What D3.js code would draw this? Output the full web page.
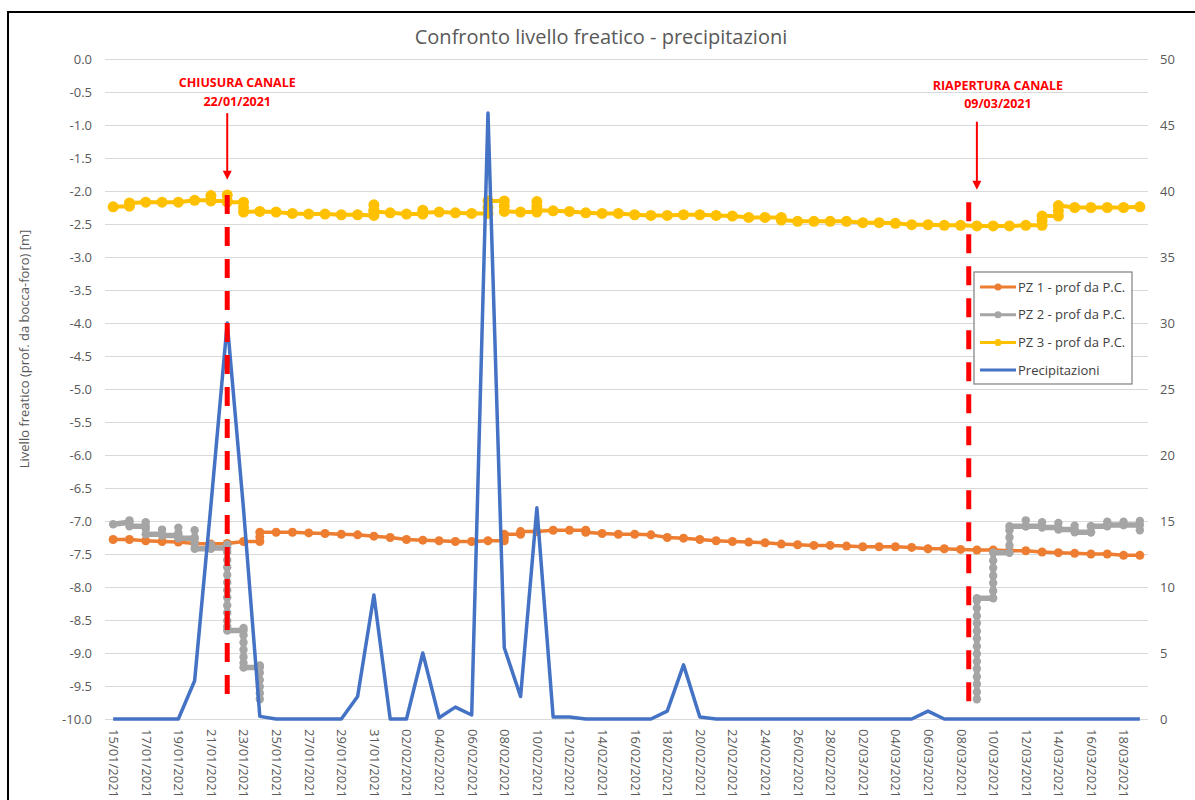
<!DOCTYPE html>
<html><head><meta charset="utf-8">
<script src="https://cdn.jsdelivr.net/npm/d3@7"></script>
<style>
body{margin:0;background:#fff}
text{font-family:"Open Sans","Noto Sans",sans-serif}
</style>
</head><body>
<svg id="chart" width="1195" height="800"></svg>
<script>
// ---------- DATA ----------
const dates = [
 "15/01/2021","16/01/2021","17/01/2021","18/01/2021","19/01/2021","20/01/2021","21/01/2021","22/01/2021",
 "23/01/2021","24/01/2021","25/01/2021","26/01/2021","27/01/2021","28/01/2021","29/01/2021","30/01/2021","31/01/2021",
 "01/02/2021","02/02/2021","03/02/2021","04/02/2021","05/02/2021","06/02/2021","07/02/2021","08/02/2021","09/02/2021",
 "10/02/2021","11/02/2021","12/02/2021","13/02/2021","14/02/2021","15/02/2021","16/02/2021","17/02/2021","18/02/2021",
 "19/02/2021","20/02/2021","21/02/2021","22/02/2021","23/02/2021","24/02/2021","25/02/2021","26/02/2021","27/02/2021","28/02/2021",
 "01/03/2021","02/03/2021","03/03/2021","04/03/2021","05/03/2021","06/03/2021","07/03/2021","08/03/2021","09/03/2021",
 "10/03/2021","11/03/2021","12/03/2021","13/03/2021","14/03/2021","15/03/2021","16/03/2021","17/03/2021","18/03/2021","19/03/2021"
];
// Precipitazioni (right axis), one value per day
const precipitazioni = [
 0,0,0,0,0,2.9,16.2,30.0,15.9,0.2,0,0,0,0,0,1.7,9.4,
 0,0,5.0,0.1,0.9,0.3,45.9,5.4,1.7,16.0,0.15,0.15,0,0,0,0,0,0.6,4.1,0.15,0,0,0,0,0,0,0,0,
 0,0,0,0,0,0.6,0,0,0,0,0,0,0,0,0,0,0,0,0
];
// Piezometers (left axis): one entry per day; arrays = several readings on the same day; null = no reading
const pz1 = [
 -7.28,-7.28,-7.30,-7.31,-7.32,-7.34,-7.35,-7.34,-7.31,[-7.31,-7.24,-7.17],-7.17,-7.17,-7.18,-7.19,-7.20,-7.21,-7.23,
 -7.25,-7.28,-7.29,-7.30,-7.31,-7.31,-7.30,[-7.30,-7.25,-7.20],[-7.20,-7.16],-7.16,-7.14,-7.14,[-7.14,-7.17],-7.19,-7.20,-7.20,
 -7.21,-7.25,-7.26,-7.28,-7.30,-7.31,-7.32,-7.33,-7.35,-7.36,-7.37,-7.37,-7.38,-7.39,-7.39,-7.39,-7.40,-7.42,-7.42,-7.43,
 -7.44,-7.44,-7.45,-7.45,-7.47,-7.48,-7.49,-7.50,-7.50,-7.52,-7.52
];
const pz2 = [
 -7.05,[-7.02,-6.99,-7.08],[-7.08,-7.02,-7.12,-7.20],[-7.20,-7.13,-7.22],[-7.22,-7.10,-7.18,-7.26],
 [-7.26,-7.14,-7.25,-7.34,-7.42],[-7.42,-7.36,-7.41],
 [-7.41,-7.36,-7.47,-7.59,-7.70,-7.82,-7.93,-8.05,-8.16,-8.28,-8.39,-8.51,-8.60,-8.66],
 [-8.66,-8.62,-8.73,-8.84,-8.95,-9.06,-9.15,-9.22],
 [-9.22,-9.19,-9.30,-9.41,-9.51,-9.61,-9.70],
 null,null,null,null,null,null,null,null,null,null,null,null,null,null,null,null,null,null,null,null,null,
 null,null,null,null,null,null,null,null,null,null,null,null,null,null,null,null,null,null,null,null,null,null,
 [-9.70,-9.59,-9.47,-9.36,-9.24,-9.13,-9.01,-8.90,-8.78,-8.67,-8.55,-8.44,-8.32,-8.21,-8.17],
 [-8.17,-8.06,-7.94,-7.83,-7.71,-7.60,-7.48],
 [-7.48,-7.37,-7.25,-7.14,-7.08],
 [-7.08,-6.99,-7.08],[-7.08,-7.02,-7.10],[-7.10,-7.03,-7.13],[-7.13,-7.07,-7.17],[-7.17,-7.08,-7.17,-7.08],
 [-7.08,-7.01,-7.06],[-7.06,-7.01,-7.06],[-7.06,-7.00,-7.14]
];
const pz3 = [
 -2.24,[-2.23,-2.18],-2.17,-2.17,-2.17,-2.14,[-2.14,-2.07,-2.15],[-2.15,-2.06,-2.17],[-2.17,-2.25,-2.32],
 -2.31,-2.32,-2.34,-2.35,-2.35,-2.36,-2.36,[-2.37,-2.29,-2.21,-2.31],
 -2.33,-2.35,[-2.35,-2.29,-2.33],-2.32,-2.33,-2.34,[-2.34,-2.25,-2.15],[-2.15,-2.23,-2.31],-2.32,
 [-2.32,-2.24,-2.16,-2.29],-2.30,-2.31,-2.33,-2.34,-2.34,-2.36,-2.37,-2.37,-2.36,-2.36,-2.37,-2.38,-2.40,
 -2.40,[-2.40,-2.44],-2.46,-2.46,-2.46,-2.46,-2.48,-2.48,-2.49,-2.51,-2.51,-2.52,-2.52,-2.53,-2.53,-2.53,-2.52,
 [-2.52,-2.45,-2.38],[-2.38,-2.30,-2.22],-2.25,-2.25,-2.25,-2.25,-2.24
];
const seriesNames = ["PZ 1 - prof da P.C.","PZ 2 - prof da P.C.","PZ 3 - prof da P.C.","Precipitazioni"];
const leftTicks = [0,-0.5,-1,-1.5,-2,-2.5,-3,-3.5,-4,-4.5,-5,-5.5,-6,-6.5,-7,-7.5,-8,-8.5,-9,-9.5,-10];
const rightTicks = [0,5,10,15,20,25,30,35,40,45,50];
const xTickLabels = dates.filter((d,i) => i % 2 === 0);
const titleText = "Confronto livello freatico - precipitazioni";
const yTitleText = "Livello freatico (prof. da bocca-foro) [m]";
const annotationTexts = [["CHIUSURA CANALE","22/01/2021"],["RIAPERTURA CANALE","09/03/2021"]];

// ---------- LAYOUT ----------
const svg = d3.select("#chart");
const L = 105, R = 1148, T = 59, B = 719;
const colors = ["#ED7D31","#A5A5A5","#FFC000","#4472C4"];

svg.append("rect").attr("x",0).attr("y",0).attr("width",1195).attr("height",800).attr("fill","#fff");

const x = d3.scalePoint().domain(dates).range([L,R]).padding(0.5);
const yL = d3.scaleLinear().domain([-10,0]).range([B,T]);
const yR = d3.scaleLinear().domain([0,50]).range([B,T]);
const step = x.step();

// gridlines
const grid = svg.append("g").attr("transform",`translate(${L},0)`)
  .call(d3.axisLeft(yL).tickValues(leftTicks).tickSize(-(R-L)).tickFormat(""));
grid.select(".domain").remove();
grid.selectAll("line").attr("stroke","#d9d9d9").attr("stroke-width",1);

// left axis labels
const ax1 = svg.append("g").attr("transform",`translate(${L},0)`)
  .call(d3.axisLeft(yL).tickValues(leftTicks).tickSize(0).tickPadding(13).tickFormat(v => v.toFixed(1)));
ax1.select(".domain").remove();
ax1.selectAll("text").attr("font-size",13).attr("fill","#595959").style("font-family","'Open Sans'");

// right axis labels
const ax2 = svg.append("g").attr("transform",`translate(${R},0)`)
  .call(d3.axisRight(yR).tickValues(rightTicks).tickSize(0).tickPadding(12).tickFormat(d3.format("d")));
ax2.select(".domain").remove();
ax2.selectAll("text").attr("font-size",13).attr("fill","#595959").style("font-family","'Open Sans'");

// x axis labels
const ax3 = svg.append("g").attr("transform",`translate(0,${B})`)
  .call(d3.axisBottom(x).tickValues(xTickLabels).tickSize(0));
ax3.select(".domain").remove();
ax3.selectAll("text")
  .attr("transform","rotate(90)").attr("x",10).attr("y",0).attr("dy","0.35em")
  .attr("text-anchor","start").attr("font-size",13).attr("fill","#595959").style("font-family","'Open Sans'");

// flatten series
function flat(arr){
  return arr.flatMap((e,i) => e == null ? [{date:dates[i], v:null}] :
    (Array.isArray(e) ? e : [e]).map(v => ({date:dates[i], v})));
}
const line = d3.line().defined(d => d.v != null).x(d => x(d.date)).y(d => yL(d.v));
const pzSeries = [
  {data:flat(pz1), color:colors[0], w:3.5, r:4.5},
  {data:flat(pz2), color:colors[1], w:5.5, r:4.2},
  {data:flat(pz3), color:colors[2], w:4, r:5.5}
];
pzSeries.forEach(s => {
  const g = svg.append("g");
  g.append("path").datum(s.data).attr("d",line).attr("fill","none")
    .attr("stroke",s.color).attr("stroke-width",s.w).attr("stroke-linejoin","round").attr("stroke-linecap","round");
  g.selectAll("circle").data(s.data.filter(d => d.v != null)).join("circle")
    .attr("cx",d => x(d.date)).attr("cy",d => yL(d.v)).attr("r",s.r).attr("fill",s.color);
});

// precipitation
const pLine = d3.line().x((d,i) => x(dates[i])).y(d => yR(d));
svg.append("path").datum(precipitazioni).attr("d",pLine).attr("fill","none")
  .attr("stroke",colors[3]).attr("stroke-width",3.5).attr("stroke-linejoin","round");

// title
svg.append("text").attr("x",601).attr("y",44).attr("text-anchor","middle")
  .attr("font-size",20).attr("fill","#595959").text(titleText);
// y axis title
svg.append("text").attr("transform","translate(29,349) rotate(-90)").attr("text-anchor","middle")
  .attr("font-size",13).attr("fill","#595959").text(yTitleText);

// legend
const lg = svg.append("g");
lg.append("rect").attr("x",974).attr("y",272).attr("width",158).attr("height",112)
  .attr("fill","#fff").attr("stroke","#7f7f7f").attr("stroke-width",1.2);
seriesNames.forEach((n,i) => {
  const yy = 287 + i*27.7;
  lg.append("line").attr("x1",980).attr("x2",1016).attr("y1",yy).attr("y2",yy)
    .attr("stroke",colors[i]).attr("stroke-width",3);
  if (i < 3) lg.append("circle").attr("cx",998).attr("cy",yy).attr("r",3.5).attr("fill",colors[i]);
  lg.append("text").attr("x",1018).attr("y",yy).attr("dy","0.35em").attr("font-size",13)
    .attr("fill","#404040").text(n);
});

// annotations (red)
const red = "#FF0000";
const ann = [
  {lineX: x(dates[7]), arrowX: x(dates[7]), textX: x(dates[7]) + 10, lineTop:-2.06, lineBot:-9.74,
   arrowTop:-0.82, arrowBot:-1.83, t1:-0.42, t2:-0.71, texts:annotationTexts[0]},
  {lineX: x(dates[52]) + step/2, arrowX: x(dates[53]), textX: x(dates[53]) + 21, lineTop:-2.17, lineBot:-9.88,
   arrowTop:-0.95, arrowBot:-1.98, t1:-0.47, t2:-0.74, texts:annotationTexts[1]}
];
ann.forEach(a => {
  svg.append("line").attr("x1",a.lineX).attr("x2",a.lineX).attr("y1",yL(a.lineTop)).attr("y2",yL(a.lineBot))
    .attr("stroke",red).attr("stroke-width",5).attr("stroke-dasharray","19,13");
  const y1 = yL(a.arrowTop), y2 = yL(a.arrowBot);
  svg.append("line").attr("x1",a.arrowX).attr("x2",a.arrowX).attr("y1",y1).attr("y2",y2-7)
    .attr("stroke",red).attr("stroke-width",2);
  svg.append("path").attr("d",`M${a.arrowX-4.5},${y2-9}L${a.arrowX+4.5},${y2-9}L${a.arrowX},${y2}Z`).attr("fill",red);
  svg.append("text").attr("x",a.textX).attr("y",yL(a.t1)).attr("text-anchor","middle")
    .attr("font-size",12.5).attr("font-weight","bold").attr("fill",red).text(a.texts[0]);
  svg.append("text").attr("x",a.textX).attr("y",yL(a.t2)).attr("text-anchor","middle")
    .attr("font-size",12.5).attr("font-weight","bold").attr("fill",red).text(a.texts[1]);
});

// outer border
svg.append("rect").attr("x",8).attr("y",12).attr("width",1200).attr("height",800)
  .attr("fill","none").attr("stroke","#000").attr("stroke-width",2);
</script>
</body></html>
